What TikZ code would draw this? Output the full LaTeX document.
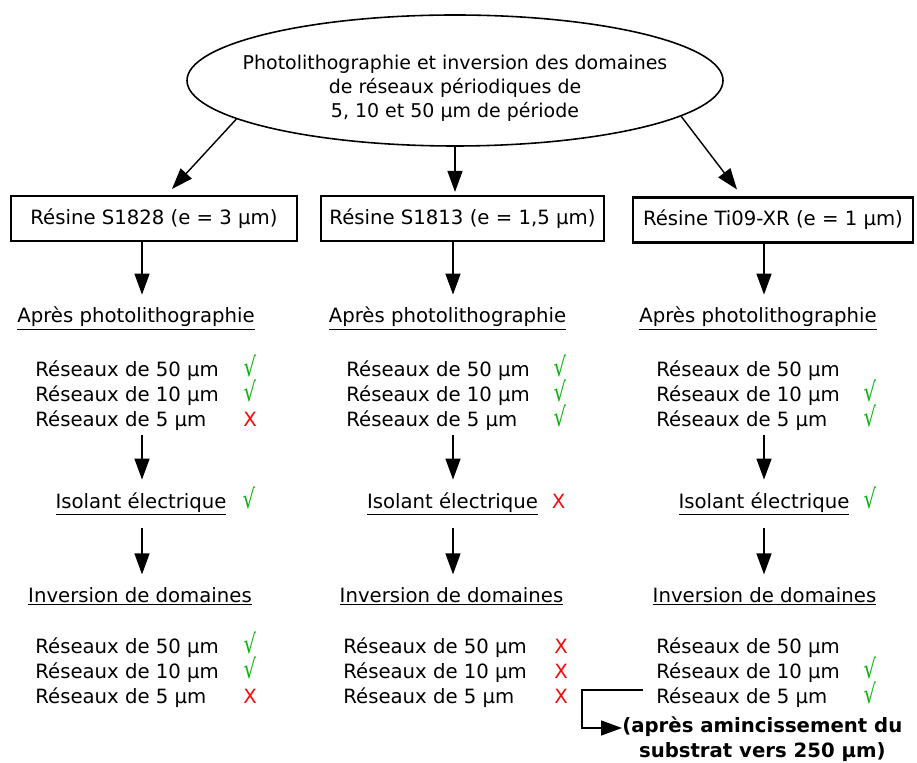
\documentclass[tikz,border=0pt]{standalone}
\usepackage{fontspec}
\setmainfont{DejaVu Sans}
\usetikzlibrary{shapes.geometric,arrows.meta}

\definecolor{vert}{RGB}{10,180,10}
\definecolor{rouge}{RGB}{250,10,10}
\newcommand{\taille}{\fontsize{11.2}{14.2}\selectfont}
\newcommand{\oui}{\textcolor{vert}{\scalebox{1}[1.35]{√}}}
\newcommand{\non}{\textcolor{rouge}{X}}

\tikzset{
  fleche/.style={line width=0.8pt,-{Triangle[length=0.42cm,width=0.3cm]}},
  resine/.style={draw,line width=1.2pt,minimum height=0.9cm,inner sep=2pt},
  etape/.style={anchor=base,inner ysep=7pt},
  ligne/.style={anchor=base west,inner sep=2pt}
}

\begin{document}
\begin{tikzpicture}[font=\taille]
  \useasboundingbox (0,0) rectangle (18.34,15.24);

  % Titre
  \node[ellipse,draw,line width=0.9pt,minimum width=10.72cm,minimum height=2.62cm,
        align=center,inner xsep=-0.52cm,inner ysep=0pt,font=\fontsize{10.8}{13.9}\selectfont] (titre) at (9.10,13.63)
    {\rule{0pt}{17pt}Photolithographie et inversion des domaines\\de réseaux périodiques de\\5, 10 et 50~µm de période};

  % Résines
  \node[resine,minimum width=5.72cm] (res1) at (3.08,10.87) {Résine S1828 (e = 3~µm)};
  \node[resine,minimum width=5.66cm] (res2) at (9.25,10.87) {Résine S1813 (e = 1,5~µm)};
  \node[resine,minimum width=5.60cm] (res3) at (15.46,10.84) {Résine Ti09-XR (e = 1~µm)};
  \draw[fleche] (titre.190) -- ([xshift=0.36cm,yshift=0.12cm]res1.north);
  \draw[fleche] (titre.south) -- ([xshift=-0.15cm,yshift=0.06cm]res2.north);
  \draw[fleche] (titre.-9) -- ([xshift=-0.72cm,yshift=0.14cm]res3.north);

  % Colonne 1 — S1828
  \coordinate (col1) at (2.84,0);
  \node[etape] (apres1) at (2.72,8.78) {\underline{Après photolithographie}};
  \foreach \y/\p in {7.70/50, 7.20/10, 6.70/5}
    \node[ligne] (apres1-\p) at (0.63,\y) {Réseaux de \p~µm};
  \node[etape] (isol1) at (2.82,5.08) {\underline{Isolant électrique}};
  \node[etape] (inv1) at (2.80,3.20) {\underline{Inversion de domaines}};
  \foreach \y/\p in {2.18/50, 1.68/10, 1.18/5}
    \node[ligne] (inv1-\p) at (0.63,\y) {Réseaux de \p~µm};
  \draw[fleche] (res1.south -| col1) -- (apres1.north -| col1);
  \draw[fleche] (apres1-5.south -| col1) -- (isol1.north -| col1);
  \draw[fleche] (isol1.south -| col1) -- (inv1.north -| col1);

  % Colonne 2 — S1813
  \coordinate (col2) at (9.06,0);
  \node[etape] (apres2) at (8.95,8.78) {\underline{Après photolithographie}};
  \foreach \y/\p in {7.70/50, 7.20/10, 6.70/5}
    \node[ligne] (apres2-\p) at (6.85,\y) {Réseaux de \p~µm};
  \node[etape] (isol2) at (9.05,5.08) {\underline{Isolant électrique}};
  \node[etape] (inv2) at (9.03,3.20) {\underline{Inversion de domaines}};
  \foreach \y/\p in {2.18/50, 1.68/10, 1.18/5}
    \node[ligne] (inv2-\p) at (6.79,\y) {Réseaux de \p~µm};
  \draw[fleche] (res2.south -| col2) -- (apres2.north -| col2);
  \draw[fleche] (apres2-5.south -| col2) -- (isol2.north -| col2);
  \draw[fleche] (isol2.south -| col2) -- (inv2.north -| col2);

  % Colonne 3 — Ti09-XR
  \coordinate (col3) at (15.28,0);
  \node[etape] (apres3) at (15.16,8.78) {\underline{Après photolithographie}};
  \foreach \y/\p in {7.70/50, 7.20/10, 6.70/5}
    \node[ligne] (apres3-\p) at (13.05,\y) {Réseaux de \p~µm};
  \node[etape] (isol3) at (15.28,5.08) {\underline{Isolant électrique}};
  \node[etape] (inv3) at (15.29,3.20) {\underline{Inversion de domaines}};
  \foreach \y/\p in {2.18/50, 1.68/10, 1.18/5}
    \node[ligne] (inv3-\p) at (13.05,\y) {Réseaux de \p~µm};
  \draw[fleche] (res3.south -| col3) -- (apres3.north -| col3);
  \draw[fleche] (apres3-5.south -| col3) -- (isol3.north -| col3);
  \draw[fleche] (isol3.south -| col3) -- (inv3.north -| col3);

  % Validations
  \foreach \x/\y/\m [count=\i] in {5.00/7.70/\oui, 5.00/7.20/\oui, 5.00/6.70/\non,
      4.98/5.08/\oui, 5.00/2.18/\oui, 5.00/1.68/\oui, 5.00/1.18/\non,
      11.20/7.70/\oui, 11.20/7.20/\oui, 11.20/6.70/\oui, 11.17/5.08/\non,
      11.22/2.18/\non, 11.22/1.68/\non, 11.22/1.18/\non,
      17.40/7.20/\oui, 17.40/6.70/\oui, 17.40/5.08/\oui, 17.40/1.68/\oui, 17.40/1.18/\oui}
    \node[anchor=base,inner sep=1pt] (val\i) at (\x,\y) {\m};

  % Amincissement
  \node[font=\taille\bfseries,align=center,inner sep=0pt,anchor=west] (note) at (12.44,0.455)
    {(après amincissement du\\substrat vers 250~µm)};
  \draw[fleche] ([xshift=-0.19cm,yshift=0.14cm]inv3-5.west) -- ++(-1.22,0)
    |- ([yshift=0.225cm]note.west);

\end{tikzpicture}
\end{document}
